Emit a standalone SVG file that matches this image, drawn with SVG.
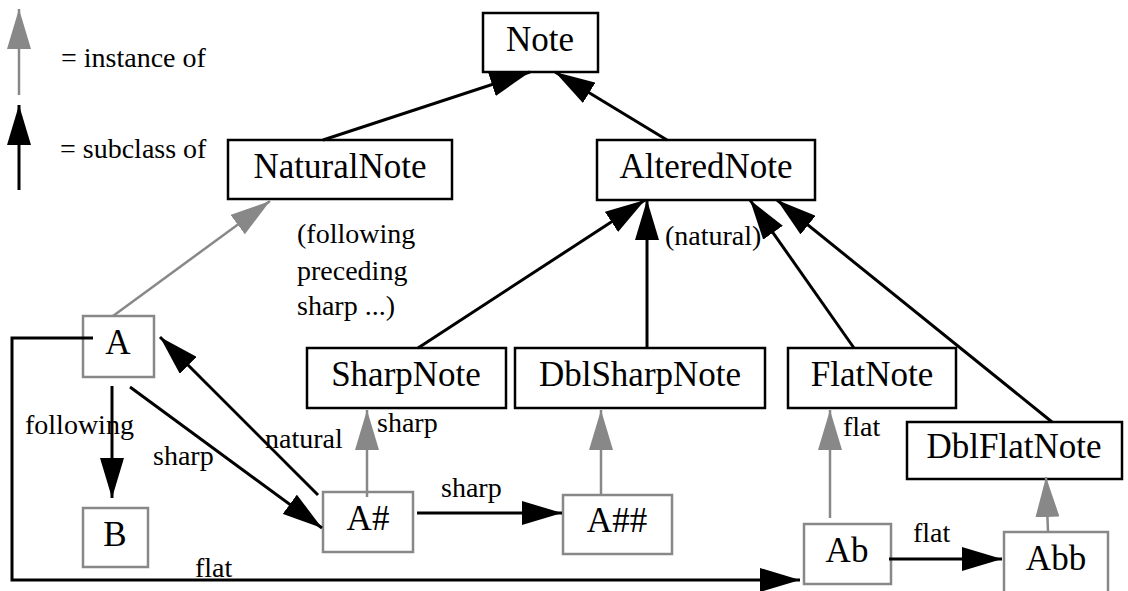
<svg xmlns="http://www.w3.org/2000/svg" width="1128" height="591" viewBox="0 0 1128 591">
<style>
text{font-family:"Liberation Serif","Times New Roman",serif;fill:#000}
.cls rect{fill:#fff;stroke:#000;stroke-width:2.5}
.cls text{font-size:35px;text-anchor:middle}
.ins rect{fill:none;stroke:#888;stroke-width:2.5}
.ins text{font-size:35px;text-anchor:middle}
.lbl{font-size:28px}
.sub{fill:none;stroke:#000;stroke-width:3;marker-end:url(#hb)}
.inst{fill:none;stroke:#888;stroke-width:2.5;marker-end:url(#hg)}
</style>
<defs>
<marker id="hb" viewBox="0 0 40 24" refX="40" refY="12" markerWidth="40" markerHeight="24" markerUnits="userSpaceOnUse" orient="auto"><path d="M0,0 L40,12 L0,24 Z" fill="#000"/></marker>
<marker id="hg" viewBox="0 0 40 24" refX="40" refY="12" markerWidth="40" markerHeight="24" markerUnits="userSpaceOnUse" orient="auto"><path d="M0,0 L40,12 L0,24 Z" fill="#888"/></marker>
</defs>
<rect width="1128" height="591" fill="#fff"/>
<g id="legend">
<path class="inst" d="M19,95 L19,9"/>
<text class="lbl" x="61" y="67">= instance of</text>
<path class="sub" d="M19,190 L19,105"/>
<text class="lbl" x="60" y="158">= subclass of</text>
</g>
<g id="Note" class="cls"><rect x="483" y="13" width="115" height="59"/><text x="540" y="51">Note</text></g>
<g id="NaturalNote" class="cls"><rect x="228" y="140" width="224" height="59"/><text x="340" y="178">NaturalNote</text></g>
<g id="AlteredNote" class="cls"><rect x="597" y="140" width="218" height="60"/><text x="706" y="178">AlteredNote</text></g>
<g id="SharpNote" class="cls"><rect x="307" y="348" width="199" height="60"/><text x="406" y="386">SharpNote</text></g>
<g id="DblSharpNote" class="cls"><rect x="515" y="348" width="250" height="60"/><text x="640" y="386">DblSharpNote</text></g>
<g id="FlatNote" class="cls"><rect x="788" y="348" width="168" height="60"/><text x="872" y="386">FlatNote</text></g>
<g id="DblFlatNote" class="cls"><rect x="907" y="422" width="215" height="57"/><text x="1014" y="458">DblFlatNote</text></g>
<g id="A" class="ins"><rect x="83" y="316" width="71" height="61"/><text x="118" y="354">A</text></g>
<g id="B" class="ins"><rect x="83" y="508" width="65" height="59"/><text x="115" y="546">B</text></g>
<g id="Asharp" class="ins"><rect x="323" y="492" width="90" height="60"/><text x="368" y="530">A#</text></g>
<g id="Adblsharp" class="ins"><rect x="563" y="495" width="109" height="59"/><text x="617" y="532">A##</text></g>
<g id="Ab" class="ins"><rect x="804" y="524" width="87" height="60"/><text x="847" y="562">Ab</text></g>
<g id="Abb" class="ins"><rect x="1004" y="532" width="104" height="62"/><text x="1056" y="570">Abb</text></g>
<g id="connectors">
<path class="sub" d="M323,140 L530,72"/>
<path class="sub" d="M667,140 L555,72"/>
<path class="inst" d="M113,316 L270,201"/>
<path class="sub" d="M418,348 L645,200"/>
<path class="sub" d="M647,348 L647,200"/>
<path class="sub" d="M854,348 L750,200"/>
<path class="sub" d="M1052,422 L777,200"/>
<path class="sub" d="M112,386 L112,498"/>
<path class="sub" d="M130,387 L322,528"/>
<path class="sub" d="M318,495 L160,337"/>
<path class="inst" d="M367,497 L367,410"/>
<path class="sub" d="M417,513 L562,513"/>
<path class="inst" d="M601,495 L601,410"/>
<path class="inst" d="M830,518 L830,410"/>
<path class="sub" d="M889,559 L1002,559"/>
<path class="inst" d="M1048,532 L1046,477"/>
<path class="sub" d="M93,338 L12,338 L12,580 L800,580"/>
<text class="lbl" x="297" y="243">(following</text>
<text class="lbl" x="297" y="280">preceding</text>
<text class="lbl" x="297" y="315">sharp ...)</text>
<text class="lbl" x="665" y="245">(natural)</text>
<text class="lbl" x="25" y="434">following</text>
<text class="lbl" x="153" y="465">sharp</text>
<text class="lbl" x="265" y="448">natural</text>
<text class="lbl" x="377" y="432">sharp</text>
<text class="lbl" x="441" y="497">sharp</text>
<text class="lbl" x="195" y="577">flat</text>
<text class="lbl" x="843" y="436">flat</text>
<text class="lbl" x="913" y="542">flat</text>
</g>
</svg>
